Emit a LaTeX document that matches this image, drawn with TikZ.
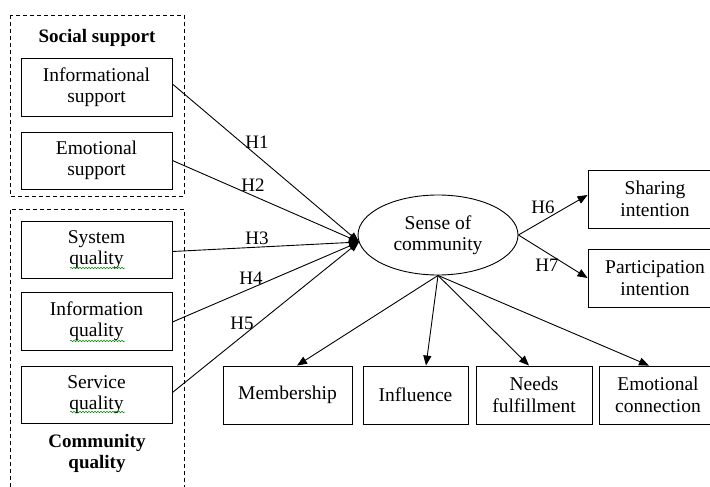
\documentclass[tikz,border=0pt]{standalone}
\usepackage{fontspec}
\setmainfont{Liberation Serif}
\usetikzlibrary{arrows.meta,shapes.geometric,decorations.pathmorphing}

\tikzset{
  box/.style={draw, line width=0.9pt, align=center, inner sep=0pt,
    font=\fontsize{19.5}{21.5}\selectfont},
  grp/.style={draw, line width=0.9pt, dash pattern=on 4pt off 3pt},
  lbl/.style={font=\fontsize{19}{21}\selectfont, inner sep=0pt},
  head/.style={font=\fontsize{19}{21}\selectfont\bfseries, align=center, inner sep=0pt},
  link/.style={line width=0.9pt},
  arr/.style={line width=0.9pt, -{Triangle[length=10pt,width=8pt]}},
  squig/.style={draw=green!55!black, line width=0.5pt,
    decorate, decoration={snake, amplitude=0.8pt, segment length=3pt}}
}

\begin{document}
\begin{tikzpicture}[x=1pt,y=-1pt]
\useasboundingbox (0,0) rectangle (710,487);

% dashed construct groups
\draw[grp] (10,15) rectangle (184,196);
\draw[grp] (10,487) -- (10,209) -- (184,209) -- (184,487);
\node[head] (sshead) at (97,38) {Social support};
\node[head] (cqhead) at (97,453) {Community\\quality};

% antecedent boxes
\node[box, minimum width=151pt, minimum height=58pt] (info) at (96.5,87) {Informational\\support};
\node[box, minimum width=151pt, minimum height=57pt] (emo) at (96.5,160.5) {Emotional\\support};
\node[box, minimum width=151pt, minimum height=57pt] (sys) at (96.5,249.5) {System\\quality};
\node[box, minimum width=151pt, minimum height=58pt] (infq) at (96.5,321) {Information\\quality};
\node[box, minimum width=151pt, minimum height=57pt] (serv) at (96.5,394.5) {Service\\quality};

% spell-check underlines
\draw[squig] (70,268) -- (125,268);
\draw[squig] (70,341) -- (125,341);
\draw[squig] (70,412) -- (125,412);

% central construct
\node[box, ellipse, minimum width=160pt, minimum height=80pt] (soc) at (438,235) {Sense of\\community};
\coordinate (hub) at (359,242);

% outcome boxes
\node[box, minimum width=134pt, minimum height=58pt] (share) at (655,199) {Sharing\\intention};
\node[box, minimum width=134pt, minimum height=58pt] (part) at (655,278) {Participation\\intention};

% dimension boxes
\node[box, minimum width=129pt, minimum height=58pt] (memb) at (287.5,395) {Membership};
\node[box, minimum width=105pt, minimum height=58pt] (infl) at (415.5,395) {Influence};
\node[box, minimum width=116pt, minimum height=58pt] (needs) at (534,395) {Needs\\fulfillment};
\node[box, minimum width=118pt, minimum height=58pt] (econ) at (658,395) {Emotional\\connection};

% hypotheses H1--H5
\draw[arr] ([yshift=3pt]info.east) -- (hub);
\draw[arr] (emo.east) -- (hub);
\draw[arr] ([yshift=-2pt]sys.east) -- (hub);
\draw[arr] ([yshift=-1pt]infq.east) -- (hub);
\draw[arr] ([yshift=2pt]serv.east) -- (hub);
\node[lbl] (h1) at (257,142) {H1};
\node[lbl] (h2) at (253,185) {H2};
\node[lbl] (h3) at (257,238) {H3};
\node[lbl] (h4) at (251,278) {H4};
\node[lbl] (h5) at (242,323) {H5};

% hypotheses H6--H7
\draw[arr] (soc.east) -- ([yshift=4pt]share.west);
\draw[arr] (soc.east) -- (part.west);
\node[lbl] (h6) at (543,207) {H6};
\node[lbl] (h7) at (547,265) {H7};

% dimensions of sense of community
\draw[arr] (soc.south) -- ([xshift=9.5pt]memb.north);
\draw[arr] (soc.south) -- ([xshift=10.5pt]infl.north);
\draw[arr] (soc.south) -- ([xshift=-5pt]needs.north);
\draw[arr] (soc.south) -- ([xshift=-9pt]econ.north);
\end{tikzpicture}
\end{document}
